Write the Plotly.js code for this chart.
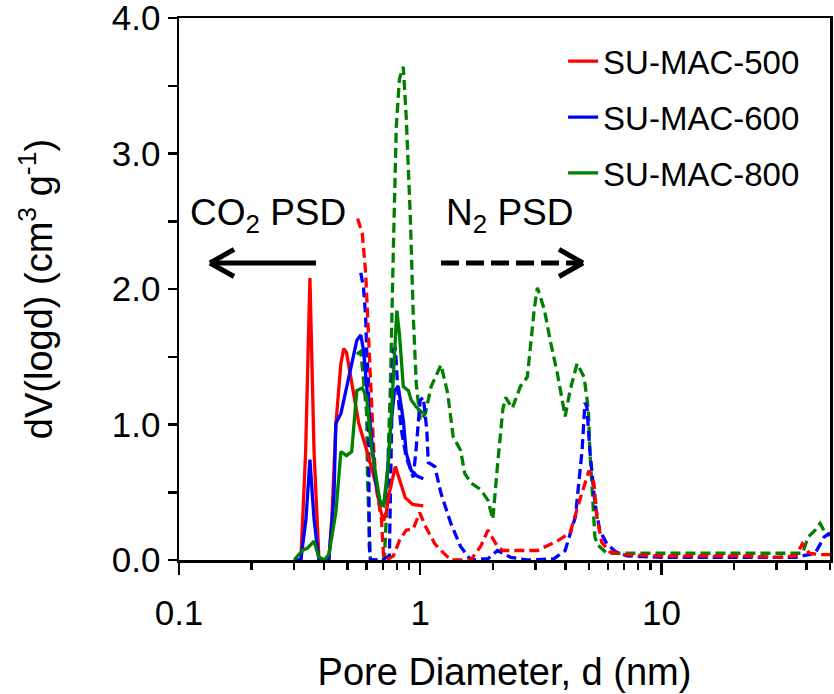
<!DOCTYPE html>
<html>
<head>
<meta charset="utf-8">
<script src="https://cdn.plot.ly/plotly-3.0.1.min.js"></script>
<style>
  html, body { margin: 0; padding: 0; background: #fff; }
  #chart { width: 834px; height: 694px; }
</style>
</head>
<body>
<div id="chart"></div>
<script>
// ---- Data (pore diameter in nm, dV(logd) in cm3/g) ----
const seriesNames = ["SU-MAC-500", "SU-MAC-600", "SU-MAC-800"];
const seriesColors = ["#ff0000", "#0000ff", "#008000"];

// CO2 PSD (solid)
const co2_500_d = [0.30, 0.32, 0.335, 0.349, 0.363, 0.38, 0.40, 0.418, 0.43, 0.447, 0.469, 0.482, 0.495, 0.52, 0.556, 0.60, 0.653, 0.684, 0.705, 0.725, 0.745, 0.789, 0.830, 0.867, 0.93, 1.03];
const co2_500_v = [0.00, 0.00, 0.80, 2.08, 0.80, 0.02, 0.00, 0.00, 0.30, 1.00, 1.45, 1.56, 1.53, 1.30, 1.01, 0.81, 0.57, 0.37, 0.29, 0.36, 0.50, 0.69, 0.57, 0.46, 0.41, 0.40];

const co2_600_d = [0.30, 0.32, 0.336, 0.349, 0.363, 0.38, 0.40, 0.418, 0.439, 0.447, 0.469, 0.495, 0.52, 0.546, 0.567, 0.582, 0.600, 0.622, 0.653, 0.684, 0.705, 0.725, 0.753, 0.782, 0.811, 0.851, 0.875, 0.918, 0.97, 1.03];
const co2_600_v = [0.00, 0.00, 0.30, 0.74, 0.30, 0.00, 0.00, 0.00, 0.47, 1.01, 1.08, 1.28, 1.45, 1.62, 1.66, 1.55, 1.28, 0.96, 0.59, 0.42, 0.40, 0.55, 0.96, 1.25, 1.28, 1.03, 0.79, 0.66, 0.62, 0.60];

const co2_800_d = [0.30, 0.324, 0.342, 0.363, 0.38, 0.40, 0.418, 0.447, 0.469, 0.495, 0.52, 0.546, 0.575, 0.60, 0.628, 0.659, 0.684, 0.705, 0.738, 0.760, 0.782, 0.80, 0.82, 0.851, 0.893, 0.918, 0.963, 1.03];
const co2_800_v = [0.00, 0.07, 0.09, 0.14, 0.02, 0.00, 0.04, 0.35, 0.80, 0.77, 0.80, 1.25, 1.27, 1.20, 0.83, 0.59, 0.41, 0.40, 0.72, 1.08, 1.50, 1.84, 1.67, 1.28, 1.25, 1.18, 1.13, 1.08];

// N2 PSD (dashed)
const n2_500_d = [0.55, 0.575, 0.594, 0.605, 0.616, 0.622, 0.641, 0.659, 0.691, 0.705, 0.725, 0.774, 0.823, 0.875, 0.936, 0.995, 1.05, 1.15, 1.22, 1.34, 1.62, 1.78, 1.91, 2.09, 2.20, 2.53, 3.06, 3.70, 4.18, 4.60, 5.01, 5.25, 5.40, 5.66, 6.11, 7.0, 10.0, 15.0, 22.0, 30.0, 36.0, 38.4, 41.0, 45.0, 50.0];
const n2_500_v = [2.52, 2.41, 2.12, 1.80, 1.55, 1.28, 0.83, 0.52, 0.30, 0.02, 0.00, 0.03, 0.15, 0.22, 0.23, 0.35, 0.25, 0.12, 0.07, 0.00, 0.00, 0.10, 0.22, 0.10, 0.07, 0.07, 0.07, 0.14, 0.20, 0.45, 0.66, 0.57, 0.32, 0.13, 0.06, 0.04, 0.03, 0.03, 0.03, 0.02, 0.03, 0.12, 0.05, 0.04, 0.04];

const n2_600_d = [0.567, 0.582, 0.594, 0.60, 0.611, 0.611, 0.615, 0.622, 0.691, 0.745, 0.753, 0.760, 0.767, 0.774, 0.789, 0.811, 0.835, 0.875, 0.936, 0.963, 1.0, 1.03, 1.065, 1.08, 1.15, 1.22, 1.34, 1.47, 1.62, 1.91, 2.09, 2.37, 2.78, 3.59, 3.99, 4.40, 4.69, 4.82, 4.91, 5.05, 5.30, 5.55, 5.94, 6.47, 7.2, 10.0, 20.0, 36.0, 43.4, 47.3, 50.0];
const n2_600_v = [2.12, 2.01, 1.80, 1.55, 1.30, 0.59, 0.10, 0.00, 0.00, 0.03, 0.59, 1.08, 1.33, 1.55, 1.57, 1.20, 0.96, 0.76, 0.61, 0.83, 1.18, 1.20, 0.96, 0.72, 0.69, 0.49, 0.27, 0.10, 0.00, 0.01, 0.07, 0.02, 0.00, 0.01, 0.07, 0.32, 0.81, 1.16, 1.13, 0.81, 0.42, 0.22, 0.12, 0.06, 0.03, 0.02, 0.02, 0.02, 0.05, 0.17, 0.20];

const n2_800_d = [0.546, 0.567, 0.582, 0.60, 0.605, 0.616, 0.622, 0.71, 0.725, 0.738, 0.753, 0.774, 0.796, 0.82, 0.851, 0.875, 0.91, 0.936, 0.963, 1.0, 1.05, 1.11, 1.22, 1.30, 1.37, 1.47, 1.53, 1.62, 1.78, 1.91, 2.00, 2.09, 2.20, 2.26, 2.41, 2.60, 2.78, 2.97, 3.06, 3.27, 3.46, 3.70, 3.99, 4.18, 4.47, 4.78, 4.98, 5.05, 5.15, 5.30, 5.45, 5.94, 7.0, 10.0, 20.0, 30.0, 38.4, 40.6, 43.4, 45.5, 47.8, 50.0];
const n2_800_v = [1.52, 1.54, 1.33, 1.08, 0.59, 0.10, 0.00, 0.00, 0.35, 0.83, 1.30, 2.30, 3.20, 3.55, 3.64, 3.27, 2.53, 1.80, 1.30, 1.03, 1.08, 1.28, 1.44, 1.23, 0.91, 0.81, 0.64, 0.57, 0.52, 0.44, 0.30, 0.69, 1.11, 1.20, 1.12, 1.28, 1.35, 1.85, 2.01, 1.85, 1.62, 1.38, 1.06, 1.25, 1.45, 1.35, 1.11, 0.81, 0.57, 0.17, 0.11, 0.05, 0.05, 0.05, 0.05, 0.05, 0.05, 0.17, 0.22, 0.27, 0.20, 0.18];

// Axis ticks
const xTickVals = [0.1, 1, 10];
const xTickText = ["0.1", "1", "10"];
const xMinorVals = [0.2, 0.3, 0.4, 0.5, 0.6, 0.7, 0.8, 0.9, 2, 3, 4, 5, 6, 7, 8, 9, 20, 30, 40, 50];

const FONT = "Liberation Sans, Arial, sans-serif";

function solid(x, y, i) {
  return { x: x, y: y, type: "scatter", mode: "lines", name: seriesNames[i],
    legendgroup: "g" + i, showlegend: true, cliponaxis: true,
    line: { color: seriesColors[i], width: 3.3 } };
}
function dashed(x, y, i) {
  return { x: x, y: y, type: "scatter", mode: "lines", name: seriesNames[i] + " (N2)",
    legendgroup: "g" + i, showlegend: false, cliponaxis: true,
    line: { color: seriesColors[i], width: 3.3, dash: "10px,5px" } };
}

const traces = [
  dashed(n2_800_d, n2_800_v, 2),
  dashed(n2_600_d, n2_600_v, 1),
  dashed(n2_500_d, n2_500_v, 0),
  solid(co2_500_d, co2_500_v, 0),
  solid(co2_600_d, co2_600_v, 1),
  solid(co2_800_d, co2_800_v, 2)
];

// plot area in paper coords: x 179..830, y 18..560
const shapes = [
  // solid arrow (CO2, pointing left)
  { type: "line", xref: "paper", yref: "paper", x0: 0.2104, y0: 0.548, x1: 0.050, y1: 0.548, line: { color: "#000", width: 5 } },
  { type: "line", xref: "paper", yref: "paper", x0: 0.0476, y0: 0.548, x1: 0.0845, y1: 0.573, line: { color: "#000", width: 5 } },
  { type: "line", xref: "paper", yref: "paper", x0: 0.0476, y0: 0.548, x1: 0.0845, y1: 0.523, line: { color: "#000", width: 5 } },
  // dashed arrow (N2, pointing right)
  { type: "line", xref: "paper", yref: "paper", x0: 0.4025, y0: 0.548, x1: 0.616, y1: 0.548, line: { color: "#000", width: 5, dash: "18px,7px" } },
  { type: "line", xref: "paper", yref: "paper", x0: 0.6206, y0: 0.548, x1: 0.5837, y1: 0.573, line: { color: "#000", width: 5 } },
  { type: "line", xref: "paper", yref: "paper", x0: 0.6206, y0: 0.548, x1: 0.5837, y1: 0.523, line: { color: "#000", width: 5 } }
];

const annotations = [
  { xref: "paper", yref: "paper", x: 0.137, y: 0.637, text: "CO<sub>2</sub> PSD", showarrow: false,
    font: { family: FONT, size: 37, color: "#000" }, xanchor: "center", yanchor: "middle" },
  { xref: "paper", yref: "paper", x: 0.508, y: 0.637, text: "N<sub>2</sub> PSD", showarrow: false,
    font: { family: FONT, size: 37, color: "#000" }, xanchor: "center", yanchor: "middle" }
];

const layout = {
  width: 834, height: 694,
  margin: { l: 179, r: 4, t: 18, b: 134 },
  paper_bgcolor: "#fff", plot_bgcolor: "#fff",
  font: { family: FONT, size: 33, color: "#000" },
  showlegend: true,
  legend: {
    x: 0.590, y: 0.972, xanchor: "left", yanchor: "top",
    bgcolor: "rgba(0,0,0,0)", borderwidth: 0,
    font: { family: FONT, size: 33, color: "#000" },
    traceorder: "grouped", tracegroupgap: 10
  },
  xaxis: {
    type: "log", range: [-1, Math.log10(50)],
    tickmode: "array", tickvals: xTickVals, ticktext: xTickText,
    ticks: "outside", ticklen: 12, tickwidth: 2.5, tickcolor: "#000",
    ticklabelstandoff: 8, ticklabeloverflow: "allow",
    minor: { tickmode: "array", tickvals: xMinorVals, ticks: "outside", ticklen: 7, tickwidth: 2.5, tickcolor: "#000", showgrid: false },
    showline: true, linecolor: "#000", linewidth: 2.5, mirror: true,
    showgrid: false, zeroline: false,
    tickfont: { family: FONT, size: 35, color: "#000" },
    title: { text: "Pore Diameter, d (nm)", font: { family: FONT, size: 38, color: "#000" }, standoff: 28 }
  },
  yaxis: {
    range: [0, 4], dtick: 1, tick0: 0, tickformat: ".1f",
    ticks: "outside", ticklen: 9, tickwidth: 2.5, tickcolor: "#000",
    ticklabeloverflow: "allow",
    minor: { dtick: 0.5, ticks: "outside", ticklen: 9, tickwidth: 2.5, tickcolor: "#000", showgrid: false },
    showline: true, linecolor: "#000", linewidth: 2.5, mirror: true,
    showgrid: false, zeroline: false,
    tickfont: { family: FONT, size: 35, color: "#000" },
    title: { text: "dV(logd) (cm<sup>3</sup> g<sup>-1</sup>)", font: { family: FONT, size: 38, color: "#000" }, standoff: 48 }
  },
  shapes: shapes,
  annotations: annotations
};

Plotly.newPlot("chart", traces, layout, { displayModeBar: false, staticPlot: true });
</script>
</body>
</html>
